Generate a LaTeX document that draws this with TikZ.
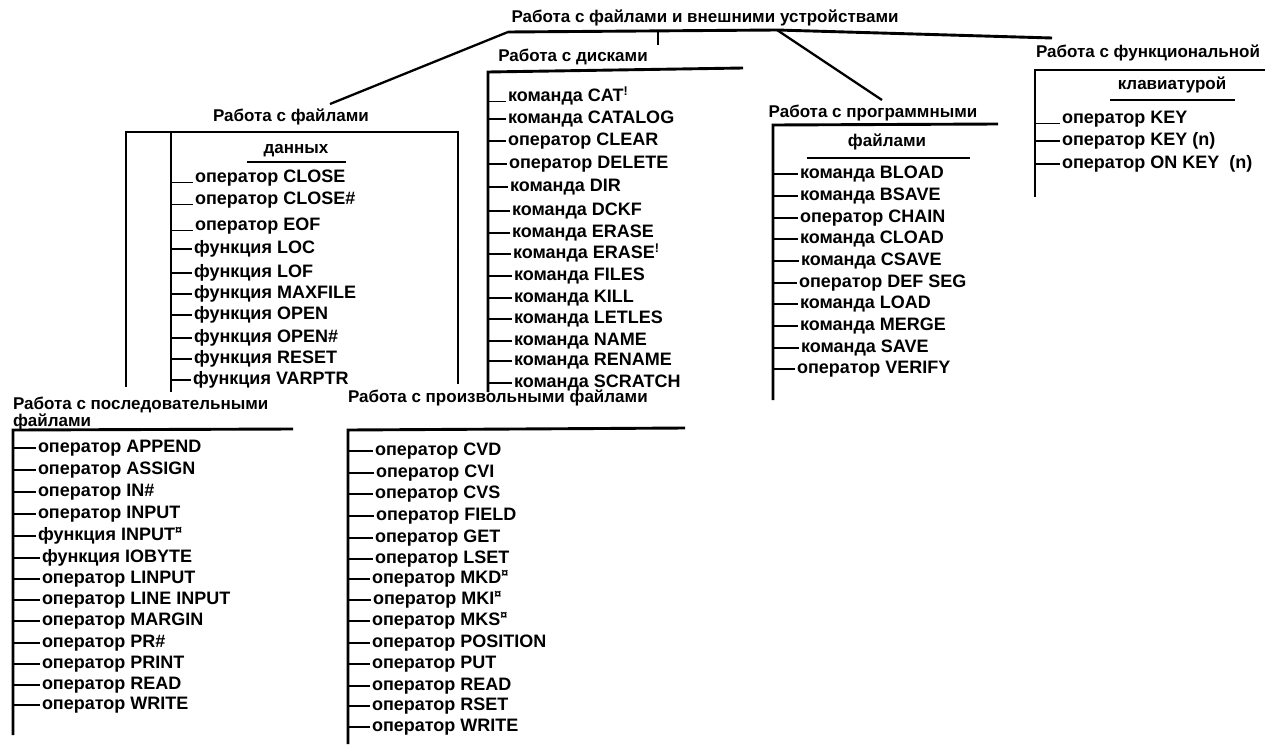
\documentclass[tikz,border=0pt]{standalone}
\usepackage{fontspec}
\setmainfont{Liberation Sans}
\begin{document}
\begin{tikzpicture}[x=1pt,y=-1pt,
  every node/.style={inner sep=0pt,outer sep=0pt,
    font=\fontsize{17}{17}\selectfont\bfseries,
    text height=12pt,text depth=3pt},
  heading/.style={anchor=center},
  lefthead/.style={anchor=west},
  entry/.style={anchor=west,font=\fontsize{18}{18}\selectfont\bfseries},
  frame/.style={line width=2.9pt},
  branch/.style={line width=2.3pt},
  twig/.style={line width=1.7pt},
]
\useasboundingbox (0,0) rectangle (1265,744);

% ---------- root ----------
\node[heading] (root) at (705,18) {Работа с файлами и внешними устройствами};
\coordinate (rL) at (508,32);
\coordinate (rM) at (777,30);
\coordinate (rR) at (1052,38);
\coordinate (rT) at (658,31);
\coordinate (rTb) at (658,45);
\draw[frame] (rL) -- (rM) -- (rR);
\draw[branch] (rT) -- (rTb);

% ---------- data files ----------
\node[heading] (dataA) at (291,117) {Работа с файлами};
\node[heading] (dataB) at (296,149) {данных};
\coordinate (dataIn) at (330,104);
\draw[branch] (rL) -- (dataIn);
\coordinate (dTL) at (126,132);
\coordinate (dTR) at (458,132);
\coordinate (dBL) at (126,387);
\coordinate (dBR) at (458,384);
\coordinate (dIT) at (171,132);
\coordinate (dIB) at (171,392);
\coordinate (dUL) at (247,162);
\coordinate (dUR) at (346,162);
\draw[frame] (dBL) -- (dTL) -- (dTR) -- (dBR);
\draw[frame] (dIT) -- (dIB);
\draw[frame] (dUL) -- (dUR);
\foreach \i/\x/\y/\a/\t in {
  1/195/178/base west/{оператор CLOSE},
  2/195/200/base west/{оператор CLOSE\#},
  3/195/226/base west/{оператор EOF},
  4/194/249/west/{функция LOC},
  5/194/273/west/{функция LOF},
  6/194/294/west/{функция MAXFILE},
  7/194/315/west/{функция OPEN},
  8/194/338/west/{функция OPEN\#},
  9/194/359/west/{функция RESET},
  10/193/380/west/{функция VARPTR}}{
  \node[entry] (d\i) at (\x,\y) {\t};
  \draw[twig] (d\i.\a -| dIT) -- ([xshift=-2pt]d\i.\a);
}

% ---------- disks ----------
\node[heading] (diskA) at (573,57) {Работа с дисками};
\coordinate (kTL) at (488,72);
\coordinate (kTR) at (743,68);
\coordinate (kBL) at (488,392);
\draw[frame] (kBL) -- (kTL) -- (kTR);
\foreach \i/\x/\y/\a/\t in {
  1/508/97/base west/{команда CAT\textsuperscript{!}},
  2/508/119/west/{команда CATALOG},
  3/508/141/west/{оператор CLEAR},
  4/509/164/west/{оператор DELETE},
  5/510/187/west/{команда DIR},
  6/512/211/west/{команда DCKF},
  7/512/233/west/{команда ERASE},
  8/513/254/west/{команда ERASE\textsuperscript{!}},
  9/514/276/west/{команда FILES},
  10/514/298/west/{команда KILL},
  11/514/319/west/{команда LETLES},
  12/514/341/west/{команда NAME},
  13/514/361/west/{команда RENAME},
  14/514/383/west/{команда SCRATCH}}{
  \node[entry] (k\i) at (\x,\y) {\t};
  \draw[twig] (k\i.\a -| kTL) -- ([xshift=-2pt]k\i.\a);
}

% ---------- program files ----------
\node[heading] (progA) at (873,113) {Работа с программными};
\node[heading] (progB) at (887,142) {файлами};
\coordinate (progIn) at (882,100);
\draw[branch] (rM) -- (progIn);
\coordinate (pTL) at (773,125);
\coordinate (pTR) at (998,124);
\coordinate (pBL) at (773,400);
\coordinate (pUL) at (807,158);
\coordinate (pUR) at (970,158);
\draw[frame] (pBL) -- (pTL) -- (pTR);
\draw[frame] (pUL) -- (pUR);
\foreach \i/\x/\y/\a/\t in {
  1/800/174/west/{команда BLOAD},
  2/800/196/west/{команда BSAVE},
  3/800/218/west/{оператор CHAIN},
  4/800/239/west/{команда CLOAD},
  5/801/261/west/{команда CSAVE},
  6/799/283/west/{оператор DEF SEG},
  7/800/304/west/{команда LOAD},
  8/800/326/west/{команда MERGE},
  9/801/348/west/{команда SAVE},
  10/797/369/west/{оператор VERIFY}}{
  \node[entry] (p\i) at (\x,\y) {\t};
  \draw[twig] (p\i.\a -| pTL) -- ([xshift=-2pt]p\i.\a);
}

% ---------- function keys ----------
\node[heading] (keyA) at (1148,53) {Работа с функциональной};
\node[heading] (keyB) at (1172,85) {клавиатурой};
\coordinate (fTL) at (1035,70);
\coordinate (fTR) at (1265,70);
\coordinate (fBL) at (1035,197);
\coordinate (fUL) at (1110,100);
\coordinate (fUR) at (1235,100);
\draw[frame] (fBL) -- (fTL) -- (fTR);
\draw[frame] (fUL) -- (fUR);
\foreach \i/\x/\y/\a/\t in {
  1/1062/119/base west/{оператор KEY},
  2/1062/141/west/{оператор KEY (n)},
  3/1062/164/west/{оператор ON KEY\ \ (n)}}{
  \node[entry] (f\i) at (\x,\y) {\t};
  \draw[twig] (f\i.\a -| fTL) -- ([xshift=-2pt]f\i.\a);
}

% ---------- sequential files ----------
\node[lefthead] (seqA) at (13,405) {Работа с последовательными};
\node[lefthead] (seqB) at (13,422) {файлами};
\coordinate (sTL) at (13,430);
\coordinate (sTR) at (293,429);
\coordinate (sBL) at (13,735);
\draw[frame] (sBL) -- (sTL) -- (sTR);
\foreach \i/\x/\y/\a/\t in {
  1/38/448/west/{оператор APPEND},
  2/38/470/west/{оператор ASSIGN},
  3/38/492/west/{оператор IN\#},
  4/38/514/west/{оператор INPUT},
  5/38/536/west/{функция INPUT\textsuperscript{¤}},
  6/42/558/west/{функция IOBYTE},
  7/42/579/west/{оператор LINPUT},
  8/42/600/west/{оператор LINE INPUT},
  9/42/621/west/{оператор MARGIN},
  10/42/643/west/{оператор PR\#},
  11/42/664/west/{оператор PRINT},
  12/42/685/west/{оператор READ},
  13/42/705/west/{оператор WRITE}}{
  \node[entry] (s\i) at (\x,\y) {\t};
  \draw[twig] (s\i.\a -| sTL) -- ([xshift=-2pt]s\i.\a);
}

% ---------- random access files ----------
\node[lefthead] (rndA) at (348,398) {Работа с произвольными файлами};
\coordinate (aTL) at (348,430);
\coordinate (aTR) at (685,428);
\coordinate (aBL) at (348,744);
\draw[frame] (aBL) -- (aTL) -- (aTR);
\foreach \i/\x/\y/\a/\t in {
  1/375/451/west/{оператор CVD},
  2/376/473/west/{оператор CVI},
  3/375/494/west/{оператор CVS},
  4/376/516/west/{оператор FIELD},
  5/375/538/west/{оператор GET},
  6/375/559/west/{оператор LSET},
  7/372/579/west/{оператор MKD\textsuperscript{¤}},
  8/373/600/west/{оператор MKI\textsuperscript{¤}},
  9/372/621/west/{оператор MKS\textsuperscript{¤}},
  10/372/643/west/{оператор POSITION},
  11/372/664/west/{оператор PUT},
  12/372/686/west/{оператор READ},
  13/372/706/west/{оператор RSET},
  14/372/727/west/{оператор WRITE}}{
  \node[entry] (a\i) at (\x,\y) {\t};
  \draw[twig] (a\i.\a -| aTL) -- ([xshift=-2pt]a\i.\a);
}
\end{tikzpicture}
\end{document}
